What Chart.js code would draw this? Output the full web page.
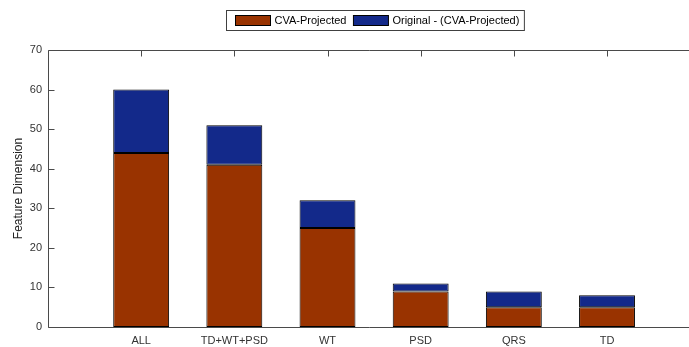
<!DOCTYPE html>
<html>
<head>
<meta charset="utf-8">
<script src="https://cdn.jsdelivr.net/npm/chart.js@4/dist/chart.umd.min.js"></script>
<style>
  html, body { margin: 0; padding: 0; background: #fff; overflow: hidden; }
  canvas { display: block; }
</style>
</head>
<body>
<canvas id="c" width="689" height="347"></canvas>
<script>
// Feature sets and their dimensions
const categories = ['ALL', 'TD+WT+PSD', 'WT', 'PSD', 'QRS', 'TD'];
const cvaProjected = [44, 41, 25, 9, 5, 5];
const originalMinusProjected = [16, 10, 7, 2, 4, 3];
const yTicks = [0, 10, 20, 30, 40, 50, 60, 70];
const seriesNames = ['CVA-Projected', 'Original - (CVA-Projected)'];

const FONT = "'Liberation Sans', Arial, sans-serif";
const AXIS = '#4a4a4a';
const TEXT = '#333333';

function points(values) {
  return values.map((v, i) => ({ x: i + 1, y: v }));
}

// Box axes with inward ticks on left, bottom and top edges (drawn beneath the bars)
const framePlugin = {
  id: 'frame',
  beforeDatasetsDraw(chart) {
    const { ctx, chartArea: a, scales } = chart;
    ctx.save();
    ctx.strokeStyle = AXIS;
    ctx.lineWidth = 1;
    ctx.beginPath();
    const L = Math.round(a.left) + 0.5, T = Math.round(a.top) + 0.5, B = Math.round(a.bottom) + 0.5;
    ctx.moveTo(a.right + 2, T); ctx.lineTo(L, T); ctx.lineTo(L, B); ctx.lineTo(a.right + 2, B);
    yTicks.forEach(v => {
      const y = Math.round(scales.y.getPixelForValue(v)) + 0.5;
      ctx.moveTo(L, y); ctx.lineTo(L + 6, y);
    });
    categories.forEach((c, i) => {
      const x = Math.round(scales.x.getPixelForValue(i + 1)) + 0.5;
      ctx.moveTo(x, T); ctx.lineTo(x, T + 6);
      ctx.moveTo(x, B); ctx.lineTo(x, B - 6);
    });
    ctx.stroke();
    ctx.restore();
  }
};

// Boxed legend above the axes
const legendBoxPlugin = {
  id: 'legendBox',
  afterDraw(chart) {
    const { ctx } = chart;
    ctx.save();
    ctx.font = '11px ' + FONT;
    const sw = 35, sh = 10, gapIn = 4, gapOut = 7, padL = 9, padR = 5;
    const widths = chart.data.datasets.map(d => sw + gapIn + ctx.measureText(d.label).width);
    const total = widths.reduce((s, w) => s + w, 0) + gapOut * (widths.length - 1) + padL + padR;
    const boxX = Math.round(chart.width / 2 - total / 2 + 30) + 0.5;
    const boxY = 10.5, boxH = 20;
    ctx.fillStyle = '#fff';
    ctx.fillRect(boxX, boxY, total, boxH);
    ctx.strokeStyle = '#404040';
    ctx.lineWidth = 1;
    ctx.strokeRect(boxX, boxY, total, boxH);
    let x = boxX + padL;
    chart.data.datasets.forEach((d, i) => {
      ctx.fillStyle = d.backgroundColor;
      ctx.fillRect(x, 15.5, sw, sh);
      ctx.strokeStyle = '#000';
      ctx.strokeRect(x, 15.5, sw, sh);
      ctx.fillStyle = '#000';
      ctx.textBaseline = 'middle';
      ctx.textAlign = 'left';
      ctx.fillText(d.label, x + sw + gapIn, 21);
      x += widths[i] + gapOut;
    });
    ctx.restore();
  }
};

new Chart(document.getElementById('c'), {
  type: 'bar',
  data: {
    datasets: [
      {
        label: seriesNames[0],
        data: points(cvaProjected),
        backgroundColor: '#993300',
        borderColor: '#000000',
        borderWidth: 1,
        borderSkipped: false,
        barPercentage: 0.6,
        categoryPercentage: 1.0
      },
      {
        label: seriesNames[1],
        data: points(originalMinusProjected),
        backgroundColor: '#13298a',
        borderColor: '#000000',
        borderWidth: 1,
        borderSkipped: false,
        barPercentage: 0.6,
        categoryPercentage: 1.0
      }
    ]
  },
  options: {
    responsive: false,
    animation: false,
    layout: { padding: { top: 50, right: 0, bottom: 0, left: 11 } },
    plugins: { legend: { display: false }, tooltip: { enabled: false } },
    scales: {
      x: {
        type: 'linear',
        stacked: true,
        offset: false,
        min: 0,
        max: 6.88,
        grid: { display: false, drawTicks: false, offset: false },
        border: { display: false },
        afterFit(s) { s.height = 20; },
        ticks: {
          stepSize: 1,
          includeBounds: false,
          autoSkip: false,
          maxRotation: 0,
          padding: 7,
          color: TEXT,
          font: { family: FONT, size: 11 },
          callback: v => categories[v - 1] || ''
        }
      },
      y: {
        stacked: true,
        min: 0,
        max: 70,
        grid: { display: false, drawTicks: false },
        border: { display: false },
        afterFit(s) { s.width = 37; },
        afterBuildTicks(s) { s.ticks = yTicks.map(v => ({ value: v })); },
        ticks: {
          padding: 6,
          color: TEXT,
          font: { family: FONT, size: 11 }
        },
        title: {
          display: true,
          text: 'Feature Dimension',
          color: '#222',
          font: { family: FONT, size: 12 },
          padding: { top: 0, bottom: 4 }
        }
      }
    }
  },
  plugins: [framePlugin, legendBoxPlugin]
});
</script>
</body>
</html>
